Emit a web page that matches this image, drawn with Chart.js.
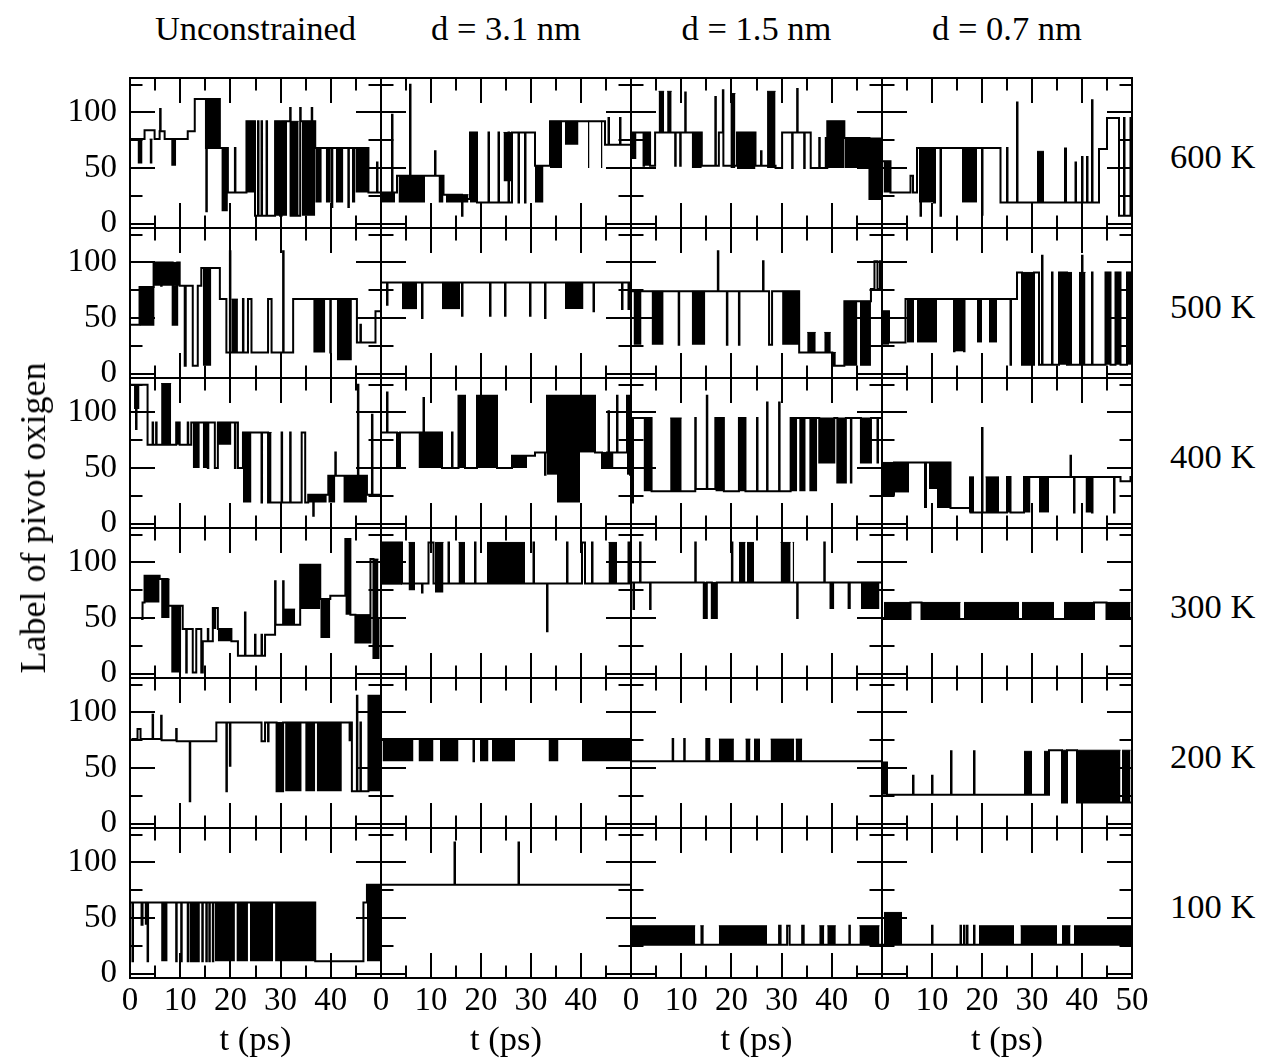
<!DOCTYPE html>
<html><head><meta charset="utf-8">
<script src="https://cdn.jsdelivr.net/npm/chart.js@4.4.1/dist/chart.umd.min.js"></script>
<style>
html,body{margin:0;padding:0;background:#fff;width:1264px;height:1063px;overflow:hidden;position:relative;font-family:"Liberation Serif","Times New Roman",serif;}
canvas{position:absolute;}
.t{position:absolute;font-size:34.5px;line-height:34.5px;white-space:nowrap;color:#000;}
</style></head><body>
<script>
// ---------- texts ----------
const colTitles = ["Unconstrained", "d = 3.1 nm", "d = 1.5 nm", "d = 0.7 nm"];
const rowLabels = ["600 K", "500 K", "400 K", "300 K", "200 K", "100 K"];
const xTitle = "t (ps)";
const yTitle = "Label of pivot oxigen";
const xTicksMajor = 10, xTicksMinor = 5, yTicksMajor = 50, yTicksMinor = 25;
const tMin = 0, tMax = 50, labelMin = -4, labelMax = 131;

// ---------- data: step series [t, label, t, label, ...] and dense-switching blocks [t0, t1, low, high] ----------
const s600u = [0,76, 2.9,84, 4.9,76, 5.9,83, 6,103, 6.1,83, 6.9,76, 11.5,83, 12.9,112, 15.2,11, 15.3,112, 17.9,68, 19.5,28, 20.9,68, 21,28, 23.2,92, 24.9,7, 25.5,92, 25.6,7, 26.2,92, 26.3,7, 27.2,92, 27.3,7, 28.9,92, 29.9,7, 30.2,92, 31.9,104, 32,7, 33.9,104, 34,92, 36.2,104, 36.3,92, 36.9,68, 40.2,15, 40.3,68, 43.5,15, 43.6,68, 47.5,28, 49.2,55, 49.3,28, 50,28];
const b600u = [[1.5,2.5,54,76],[3.9,4.5,54,76],[8.2,9.2,52,76],[14.9,17.9,67,112],[18.2,19.5,11,68],[23.2,24.9,28,92],[28.9,29.9,7,92],[30.2,31.3,7,92],[31.8,33.6,7,92],[34.2,36.9,7,92],[36.9,38.2,19,68],[39,40,19,68],[41,42.5,19,68],[44.2,44.9,19,68],[44.9,47.5,28,68]];
const s600d31 = [0,28, 2.2,98, 2.3,28, 3.2,43, 5.8,125, 5.9,43, 10.8,65, 10.9,43, 12.5,26, 16.2,7, 16.3,22, 17.8,82, 19.2,19, 21.5,82, 21.6,19, 23.5,82, 23.6,19, 25.5,82, 25.6,19, 26.2,82, 27.5,19, 27.6,82, 28.8,19, 28.9,82, 30.8,52, 33.8,92, 44.8,71, 45.5,95, 45.6,71, 47.8,95, 47.9,71, 50,71];
const b600d31 = [[0.2,2.8,19,28],[3.5,8.8,19,43],[11.5,12.5,19,43],[13,17.5,19,26],[17.8,19.2,19,82],[24.5,26.2,38,82],[30.8,32.5,19,52],[33.8,36.2,50,92],[36.8,39.5,71,92],[41.4,41.7,50,92],[44,44.3,50,92]];
const s600d15 = [0,82, 2.5,52, 2.6,82, 3.8,52, 4.8,82, 8.8,52, 8.9,82, 9.8,52, 9.9,82, 10.8,118, 10.9,82, 14.1,52, 16.8,114, 16.9,52, 17.5,82, 18.3,120, 18.4,52, 21.1,82, 24.8,52, 25.9,65, 26,52, 28.8,50, 30.1,82, 32.1,50, 32.2,82, 33.1,121, 33.2,82, 34.5,50, 34.6,82, 35.8,50, 37.5,77, 37.6,50, 38.8,77, 38.9,50, 39.1,92, 42.5,77, 47.5,22, 50,22];
const b600d15 = [[0.1,1.1,58,82],[2.5,3.8,52,82],[5.5,6.6,82,119],[7.2,8.1,82,119],[12.1,14.1,50,82],[19.8,20.8,50,117],[21.1,24.8,49,82],[27.1,28.8,50,119],[39.1,42.5,50,92],[42.5,47.5,50,77],[47.5,50,22,77]];
const s600d07 = [0,56, 1.7,28, 5.7,43, 6.2,28, 7,68, 7.7,7, 7.8,68, 10.4,19, 10.6,68, 11.7,7, 11.8,68, 20,8, 20.1,68, 23.7,19, 25,68, 25.1,19, 27,109, 27.1,19, 38.7,55, 38.8,19, 40,60, 40.1,19, 41,60, 41.1,19, 42,111, 42.1,19, 43.4,67, 45,95, 47.4,7, 48.4,95, 48.5,7, 49.7,95, 50,95];
const b600d07 = [[0.3,1.7,28,56],[7.4,10.4,19,68],[16,19,19,68],[31,32.4,19,65],[36.4,37,19,68]];

const s500u = [0,44, 1.9,78, 4.7,100, 6.2,79, 6.3,100, 8.5,44, 9.4,100, 9.9,79, 10.9,7, 11.1,79, 12.5,7, 13.5,79, 14.2,95, 17.9,67, 19.2,19, 19.9,110, 20,19, 22.5,67, 22.6,19, 23.5,67, 24.2,19, 27.5,67, 28.2,19, 30.5,110, 30.6,19, 32.5,67, 39.9,19, 40,67, 45.2,28, 45.9,44, 46,28, 48.9,56, 50,56];
const b500u = [[1.9,4.9,43,78],[4.7,9.9,79,100],[8.5,9.4,44,79],[14.5,16.2,7,95],[20.2,21.5,19,67],[36.5,38.9,19,67],[41.2,44.2,12,67]];
const s500d31 = [0,82, 1.2,62, 1.3,82, 8.2,50, 8.3,82, 16.2,52, 16.3,82, 21.8,52, 21.9,82, 24.8,52, 24.9,82, 29.8,52, 29.9,82, 32.8,50, 32.9,82, 42.5,56, 42.6,82, 48.2,58, 48.3,82, 49.5,58, 49.6,82, 50,82];
const b500d31 = [[4.2,7.2,58,82],[12.2,15.8,58,82],[36.8,40.5,58,82]];
const s500d15 = [0,74, 9.5,26, 9.6,74, 17.3,110, 17.4,74, 19.1,26, 19.2,74, 21.5,26, 21.6,74, 26.3,101, 26.4,74, 27.5,26, 28.1,74, 33.5,19, 40.1,7, 42.5,65, 47.8,76, 48.5,101, 49.1,76, 49.6,101, 50,101];
const b500d15 = [[0.5,2.1,26,74],[4.1,6.5,26,74],[12.1,14.8,26,74],[30.1,33.5,26,74],[35.1,36.8,19,37],[38.5,39.8,19,37],[40.1,40.8,7,19],[42.5,45.1,7,65],[45.6,47.8,7,65]];
const s500d07 = [0,56, 1.4,28, 4.7,67, 14.4,20, 14.5,67, 16.4,20, 16.5,67, 25.7,8, 25.8,67, 27,91, 28,8, 30.4,91, 31.4,8, 32,106, 32.1,8, 34,91, 34.1,8, 35.4,91, 37,8, 40,106, 40.1,8, 42,91, 42.1,8, 44.7,91, 45.7,8, 46.7,91, 47.7,8, 49,91, 50,91];
const b500d07 = [[0,1.4,26,56],[5,6.4,28,67],[7,11,28,67],[14.4,16.4,20,67],[19,20,28,67],[21.4,23,28,67],[28,30.4,8,91],[35.4,38,8,91],[39.4,40.7,8,91],[44.7,45.7,8,91],[46.7,47.7,8,91],[49,50,8,91]];

const s400u = [0,125, 1.2,85, 1.3,125, 3.5,71, 4.5,91, 4.6,71, 5.2,91, 5.3,71, 9.2,91, 9.9,71, 11.5,91, 11.6,71, 12.2,91, 15.5,50, 15.6,91, 16.9,50, 17.5,91, 20.9,50, 21,91, 21.5,50, 22.5,82, 26.2,19, 26.3,82, 27.5,19, 30.2,82, 30.3,19, 31.9,82, 32,19, 34.2,82, 34.9,19, 35.5,26, 36.5,7, 36.6,26, 39.5,43, 40.9,64, 41,43, 45.4,125, 45.5,43, 47.2,26, 48.2,98, 48.3,26, 50,26];
const b400u = [[0.8,1.9,103,125],[6.2,8.2,71,126],[9.2,9.9,71,91],[12.5,13.9,50,91],[14.5,15.5,50,91],[17.5,20.2,71,91],[22.5,24.2,19,82],[27.5,28.2,19,82],[35.5,39.2,19,26],[39.5,40.9,19,43],[42.5,47.2,19,43]];
const s400d31 = [0,82, 1.2,118, 1.3,82, 3.2,50, 3.8,82, 8.5,113, 8.6,82, 12.2,50, 14.2,82, 14.3,50, 15.5,115, 16.8,50, 19.2,115, 23.2,50, 26.2,61, 30.8,64, 32.8,44, 32.9,64, 33.2,115, 42.8,64, 44.2,50, 45.2,64, 45.5,101, 45.6,64, 47.2,115, 47.3,64, 49.2,115, 49.8,44, 50,64];
const b400d31 = [[3.2,3.8,50,82],[7.5,12.2,50,82],[15.5,16.8,50,115],[19.2,23.2,50,115],[26.2,29.2,50,61],[33.2,35.2,44,115],[35.2,39.8,19,115],[39.8,42.8,64,115],[44.2,46.5,50,64],[49.2,49.8,44,115]];
const s400d15 = [0,95, 0.2,19, 0.4,95, 4.1,29, 12.8,95, 12.9,31, 15.1,115, 15.2,31, 16.8,95, 18.5,29, 21.5,95, 22.8,29, 25.1,95, 25.2,29, 27.1,109, 27.2,29, 29.5,109, 29.6,29, 31.8,95, 37.5,55, 40.5,95, 41.1,37, 42.8,95, 43.8,37, 43.9,95, 45.8,55, 47.8,95, 49.1,55, 49.2,95, 50,95];
const b400d15 = [[2.5,4.1,29,95],[7.8,10.1,29,95],[16.8,18.5,29,95],[21.5,22.8,29,95],[31.8,33.1,29,95],[33.5,34.8,29,95],[35.5,37.1,29,95],[37.5,40.5,55,95],[41.1,42.8,37,95],[45.8,47.8,55,95]];
const s400d07 = [0,26, 2.4,55, 13.7,14, 17.7,10, 20,86, 20.1,10, 25,42, 25.7,10, 28.4,42, 37.7,61, 37.8,42, 38.4,10, 38.5,42, 42,10, 42.1,42, 46.4,10, 46.5,42, 47.7,38, 49.7,42, 50,42];
const b400d07 = [[0.2,2.4,26,55],[2.4,5.4,28,55],[8.4,9,14,55],[9.4,13.7,31,55],[11,13.7,14,40],[17.4,18.4,10,42],[20.7,23.4,10,42],[25,25.7,10,42],[28.4,29.7,10,42],[31.4,33.4,10,42],[40.7,42,10,42]];

const s300u = [2.2,49, 2.5,64, 2.9,88, 5.9,85, 7.5,61, 10.5,40, 11.2,1, 11.3,40, 12.5,1, 13.2,40, 14.2,1, 14.5,29, 15.5,40, 15.6,29, 16.5,59, 17.5,40, 20.2,29, 21.5,16, 22.9,55, 23,16, 24.9,35, 25,16, 26.2,35, 26.3,16, 26.9,35, 28.9,83, 29,44, 30.5,83, 30.6,44, 33.9,98, 37.9,67, 39.9,70, 42.9,121, 43.9,53, 44.9,28, 47.9,103, 48.5,14, 49.5,50, 50,50];
const b300u = [[2.9,5.9,64,88],[6.2,7.9,50,85],[8.2,10.2,1,61],[16.5,17.2,40,59],[17.5,20.2,29,40],[30.5,32.9,44,58],[33.9,37.9,58,98],[37.9,39.9,32,67],[42.9,43.9,53,121],[44.9,47.9,28,53],[48.5,49.5,14,103]];
const s300d31 = [0,118, 4.2,81, 8.2,73, 8.3,81, 9.5,118, 10.5,81, 13.5,118, 13.6,81, 18.8,118, 18.9,81, 30.5,118, 30.6,81, 33.2,38, 33.3,81, 37.2,118, 37.3,81, 40.2,118, 40.8,81, 42.2,118, 42.3,81, 49.5,118, 49.6,81, 50,81];
const b300d31 = [[0.2,4.2,80,118],[5.5,6.8,75,118],[10.8,12.5,73,118],[15.5,16.8,81,118],[21.2,28.8,81,118],[45.5,47.2,81,118]];
const s300d15 = [0,82, 0.5,58, 0.6,82, 1.8,118, 1.9,82, 3.8,58, 3.9,82, 12.8,118, 12.9,82, 14.5,50, 15.1,82, 16.1,50, 17.1,82, 20.1,118, 20.2,82, 33.1,50, 33.2,82, 38.5,118, 38.6,82, 50,82];
const b300d15 = [[14.5,15.1,50,82],[16.1,17.1,50,82],[21.5,22.8,82,118],[23.1,24.5,82,118],[29.8,31.8,82,118],[32.2,32.5,82,118],[39.5,40.5,58,82],[43.1,43.8,58,82],[45.8,49.5,58,82]];
const s300d07 = [0,49, 5.7,64, 7.9,49, 42.4,64, 44.9,49, 50,49];
const b300d07 = [[0.4,5.7,49,64],[8,15.7,49,64],[16.4,27.4,49,64],[28,34.4,49,64],[36.4,42.4,49,64],[45,49.7,49,64]];

const s200u = [0.3,76, 1.5,85, 2.1,76, 4.5,98, 4.6,76, 6.2,97, 6.3,75, 9.2,85, 9.3,74, 11.9,20, 12,74, 17.2,91, 19.2,29, 19.3,91, 19.9,52, 20,91, 26.2,74, 26.9,91, 27.5,74, 27.6,91, 29.2,29, 30.5,91, 44.2,29, 45.2,115, 45.3,29, 45.9,91, 46,29, 47.5,115, 50,115];
const b200u = [[29.2,30.5,29,91],[30.9,34.2,29,91],[34.9,36.9,29,91],[37.2,42.2,29,91],[43.5,44.2,74,91],[47.5,50,29,115]];
const s200d31 = [0,76, 18.5,56, 18.6,76, 50,76];
const b200d31 = [[0.3,6.5,56,76],[7.5,10.5,56,76],[11.8,15.5,56,76],[19.8,21.5,56,76],[22.2,26.8,56,76],[33.5,35.5,56,76],[40.2,49.8,56,76]];
const s200d15 = [0,56, 8.3,76, 8.4,56, 10.6,76, 10.7,56, 15,76, 15.1,56, 15.5,76, 15.6,56, 50,56];
const b200d15 = [[17.5,20.5,56,76],[22.8,23.8,56,76],[24.5,25.7,56,76],[27.8,32.5,56,76],[32.8,34.1,56,76]];
const s200d07 = [0,55, 1,26, 6.2,43, 6.3,26, 10,43, 10.1,26, 13.8,65, 13.9,26, 18.4,65, 18.5,26, 33.4,66, 36,19, 37,66, 39,19, 50,19];
const b200d07 = [[0,1,26,55],[28.4,30,26,65],[32.4,33.4,26,65],[36,37,19,66],[39,47.7,19,66],[48,49.7,19,66]];

const s100u = [0,64, 0.5,11, 0.6,64, 2.3,44, 2.5,64, 3.5,11, 3.6,64, 9.2,11, 9.3,64, 10.2,11, 10.3,64, 11.5,11, 11.6,64, 12.1,11, 12.2,64, 12.6,11, 12.7,64, 13.1,11, 13.2,64, 13.6,11, 13.7,64, 14.4,11, 14.5,64, 15.2,11, 15.3,64, 15.8,11, 15.9,64, 16.5,11, 16.6,64, 36.9,11, 46.5,64, 47.2,80, 50,80];
const b100u = [[2.9,3.5,44,64],[6.2,7.5,11,64],[16.9,20.9,11,64],[21.2,23.5,11,64],[23.9,28.5,11,64],[28.9,36.9,11,64],[47.2,50,11,80]];
const s100d31 = [0,80, 14.7,118, 14.8,80, 27.5,118, 27.6,80, 50,80];
const b100d31 = [];
const s100d15 = [0,26, 29.5,43, 29.8,26, 31.1,43, 31.6,26, 34.1,43, 34.4,26, 43.5,43, 43.6,26, 50,26];
const b100d15 = [[0.1,12.8,26,43],[13.8,14.5,26,43],[17.5,27.1,26,43],[37.5,38.5,26,43],[39.1,40.8,26,43],[45.5,49.5,26,43]];
const s100d07 = [0,26, 10,43, 10.1,26, 15.7,43, 15.8,26, 16.4,43, 16.5,26, 17,43, 17.1,26, 18.4,43, 18.5,26, 50,26];
const b100d07 = [[0.4,4,26,55],[19.4,26.4,26,43],[27.7,35,26,43],[36,37.7,26,43],[38.4,50,26,43]];

// table of panels built from the arrays above (row = temperature, col = constraint)
const panelTable = [
  [[s600u,b600u],[s600d31,b600d31],[s600d15,b600d15],[s600d07,b600d07]],
  [[s500u,b500u],[s500d31,b500d31],[s500d15,b500d15],[s500d07,b500d07]],
  [[s400u,b400u],[s400d31,b400d31],[s400d15,b400d15],[s400d07,b400d07]],
  [[s300u,b300u],[s300d31,b300d31],[s300d15,b300d15],[s300d07,b300d07]],
  [[s200u,b200u],[s200d31,b200d31],[s200d15,b200d15],[s200d07,b200d07]],
  [[s100u,b100u],[s100d31,b100d31],[s100d15,b100d15],[s100d07,b100d07]]
];

// ---------- layout ----------
const colLeft = [130, 381, 631, 882], colW = [251, 250, 251, 250];
const rowTop = [78, 228, 378, 528, 678, 828], rowH = 150;
const PADL = 80, PADR = 30, PADT = 10, PADB = 50;
const LBLW = 75, LBLH = 48;
const FONT = '"Liberation Serif","Times New Roman",serif';

function addText(txt, left, top, extra) {
  const d = document.createElement('div');
  d.className = 't';
  d.textContent = txt;
  d.style.left = left + 'px';
  d.style.top = top + 'px';
  if (extra) Object.assign(d.style, extra);
  document.body.appendChild(d);
  return d;
}

function axis(pos, step, tl, show, opts) {
  const horiz = (pos === 'top' || pos === 'bottom');
  const size = show ? (horiz ? LBLH : LBLW) : 0;
  return {
    type: 'linear', position: pos, weight: show ? 5 : 0,
    min: horiz ? tMin : labelMin, max: horiz ? tMax : labelMax,
    grid: {drawOnChartArea: false, drawTicks: true, tickLength: tl, lineWidth: 2, tickWidth: 2, color: '#000', tickColor: '#000'},
    border: {display: true, color: '#000', width: 2},
    ticks: Object.assign({stepSize: step, includeBounds: false, display: show, autoSkip: false, maxRotation: 0, minRotation: 0,
      color: '#000', font: {family: FONT, size: 33}}, (opts && opts.ticks) || {}),
    afterFit(s) {
      if (horiz) s.height = size; else s.width = size;
      s.paddingLeft = 0; s.paddingRight = 0; s.paddingTop = 0; s.paddingBottom = 0;
    }
  };
}

for (let r = 0; r < 6; r++) {
  for (let c = 0; c < 4; c++) {
    const [steps, blocks] = panelTable[r][c];
    const datasets = [];
    const pts = [];
    for (let i = 0; i < steps.length; i += 2) pts.push({x: steps[i], y: steps[i + 1]});
    datasets.push({data: pts, stepped: true, borderColor: '#000', borderWidth: 2, pointRadius: 0, fill: false});
    for (const b of blocks) {
      datasets.push({data: [{x: b[0], y: b[3]}, {x: b[1], y: b[3]}], fill: {value: b[2]},
        backgroundColor: '#000', borderColor: '#000', borderWidth: 1, pointRadius: 0});
    }
    const W = colW[c] + PADL + PADR, H = rowH + PADT + PADB;
    const cv = document.createElement('canvas');
    cv.width = W; cv.height = H;
    cv.style.left = (colLeft[c] - PADL) + 'px';
    cv.style.top = (rowTop[r] - PADT) + 'px';
    cv.style.width = W + 'px'; cv.style.height = H + 'px';
    document.body.appendChild(cv);
    const lastCol = c === 3;
    const showY = c === 0, showX = r === 5;
    new Chart(cv, {
      type: 'line',
      data: {datasets},
      options: {
        responsive: false, animation: false, devicePixelRatio: 1, events: [],
        layout: {padding: {left: PADL - (showY ? LBLW : 0), right: PADR, top: PADT, bottom: PADB - (showX ? LBLH : 0)}},
        plugins: {legend: {display: false}, tooltip: {enabled: false}},
        scales: {
          x: axis('bottom', xTicksMajor, -25, showX, {ticks: {padding: 29, callback: v => (v === 50 && !lastCol) ? '' : String(v)}}),
          xm: axis('bottom', xTicksMinor, -12.5, false),
          xt: axis('top', xTicksMajor, -25, false),
          xtm: axis('top', xTicksMinor, -12.5, false),
          y: axis('left', yTicksMajor, -25, showY, {ticks: {padding: 38, callback: v => String(v)}}),
          ym: axis('left', yTicksMinor, -12.5, false),
          yr: axis('right', yTicksMajor, -25, false),
          yrm: axis('right', yTicksMinor, -12.5, false)
        }
      }
    });
  }
}

// ---------- text labels ----------
for (let c = 0; c < 4; c++) {
  addText(colTitles[c], colLeft[c], 11, {width: colW[c] + 'px', textAlign: 'center'});
  addText(xTitle, colLeft[c], 1021, {width: colW[c] + 'px', textAlign: 'center'});
}
for (let r = 0; r < 6; r++) {
  addText(rowLabels[r], 1170, rowTop[r] + rowH / 2 + 15 - 28.9);
}
addText(yTitle, 33, 518, {fontSize: '36px', lineHeight: '36px', transform: 'translate(-50%,-50%) rotate(-90deg)'});
</script>
</body></html>
